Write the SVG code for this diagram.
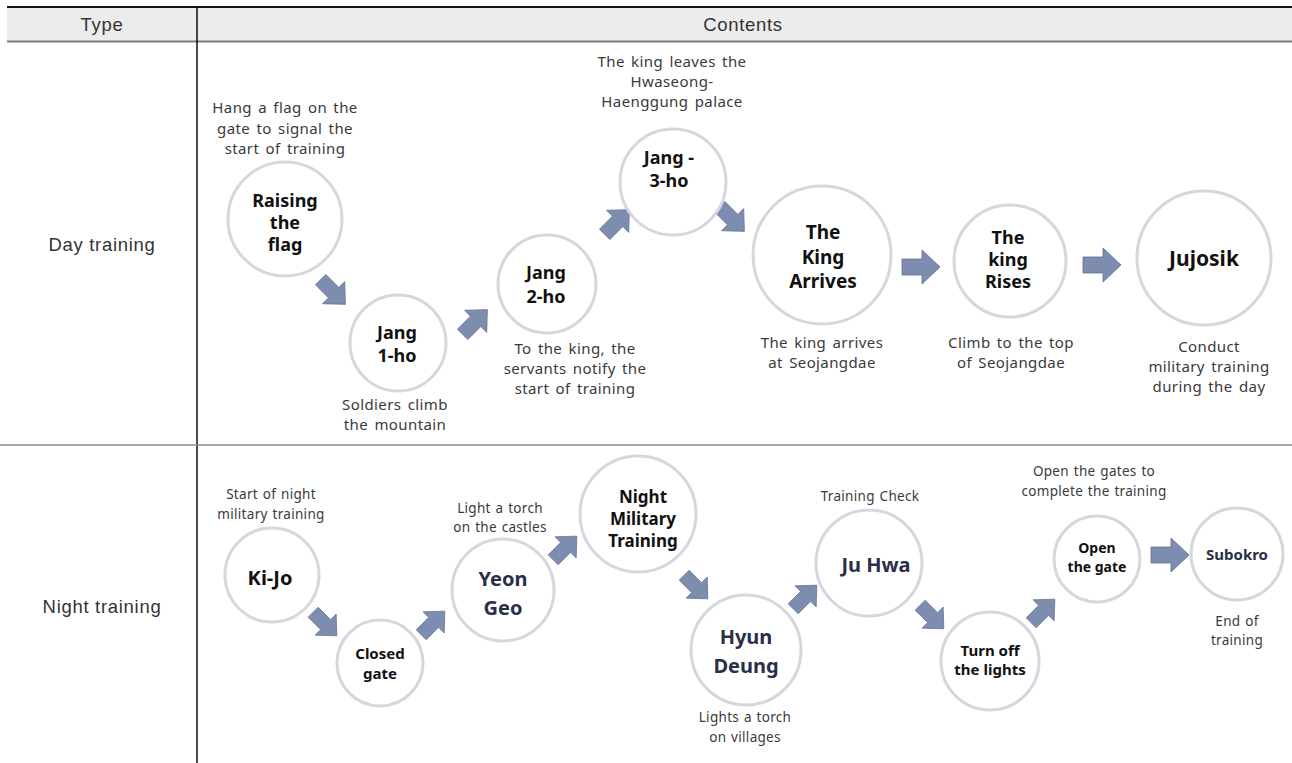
<svg xmlns="http://www.w3.org/2000/svg" width="1292" height="763" viewBox="0 0 1292 763">
<style>
.hd{font-family:"Liberation Sans",Arial,sans-serif;font-size:18.5px;letter-spacing:0.7px;fill:#333;text-anchor:middle;dominant-baseline:central}
.ds{font-family:"Noto Sans","Noto Sans CJK KR",sans-serif;font-size:15px;letter-spacing:0.4px;word-spacing:2px;fill:#3a3a3a;text-anchor:middle;dominant-baseline:central}
.dn{font-family:"Noto Sans","Noto Sans CJK KR",sans-serif;font-size:13.5px;letter-spacing:0.3px;word-spacing:1px;fill:#3a3a3a;text-anchor:middle;dominant-baseline:central}
.lb{font-family:"Noto Sans","Noto Sans CJK KR",sans-serif;font-weight:bold;fill:#111;text-anchor:middle;dominant-baseline:central}
.nv{fill:#2a2f48}
.c{fill:#fff;stroke:#d6d6de;stroke-width:3}
.ar{fill:#7d8db0;stroke:#5f6f95;stroke-width:0.8}
</style>
<defs>
<polygon id="arr" points="-19,-8 1,-8 1,-17 19,0 1,17 1,8 -19,8"/>
</defs>
<rect width="1292" height="763" fill="#fff"/>
<g id="table">
<rect x="7" y="7" width="1285" height="34" fill="#ececec"/>
<line x1="7" y1="7" x2="1292" y2="7" stroke="#111" stroke-width="2"/>
<line x1="7" y1="41.5" x2="1292" y2="41.5" stroke="#7a7a7a" stroke-width="2"/>
<line x1="197" y1="7" x2="197" y2="763" stroke="#111" stroke-width="1.5"/>
<line x1="0" y1="445" x2="1292" y2="445" stroke="#8a8a8a" stroke-width="1.5"/>
<text class="hd" x="102" y="24">Type</text>
<text class="hd" x="743" y="24">Contents</text>
<text class="hd" x="102" y="244">Day training</text>
<text class="hd" x="102" y="606">Night training</text>
</g>
<g id="connectors">
<use href="#arr" class="ar" transform="translate(333,292) rotate(45) scale(0.92)"/>
<use href="#arr" class="ar" transform="translate(475,322) rotate(-45) scale(0.92)"/>
<use href="#arr" class="ar" transform="translate(617,222) rotate(-45) scale(0.92)"/>
<use href="#arr" class="ar" transform="translate(732,219) rotate(45) scale(0.92)"/>
<use href="#arr" class="ar" transform="translate(921,267)"/>
<use href="#arr" class="ar" transform="translate(1102,265)"/>
<use href="#arr" class="ar" transform="translate(325,624) rotate(45) scale(0.88)"/>
<use href="#arr" class="ar" transform="translate(433,623) rotate(-45) scale(0.88)"/>
<use href="#arr" class="ar" transform="translate(565,548) rotate(-45) scale(0.88)"/>
<use href="#arr" class="ar" transform="translate(696,587) rotate(45) scale(0.88)"/>
<use href="#arr" class="ar" transform="translate(805,597) rotate(-45) scale(0.88)"/>
<use href="#arr" class="ar" transform="translate(932,617) rotate(45) scale(0.88)"/>
<use href="#arr" class="ar" transform="translate(1043,611) rotate(-45) scale(0.88)"/>
<use href="#arr" class="ar" transform="translate(1170,555)"/>
</g>
<g id="n-raising">
<circle class="c" cx="285" cy="219" r="57"/>
<text class="lb" font-size="18" x="285" y="200">Raising</text>
<text class="lb" font-size="18" x="285" y="222">the</text>
<text class="lb" font-size="18" x="285" y="244">flag</text>
<text class="ds" x="285" y="107">Hang a flag on the</text>
<text class="ds" x="285" y="128">gate to signal the</text>
<text class="ds" x="285" y="148">start of training</text>
</g>
<g id="n-jang1">
<circle class="c" cx="398" cy="343" r="48"/>
<text class="lb" font-size="18" x="397" y="332">Jang</text>
<text class="lb" font-size="18" x="397" y="355">1-ho</text>
<text class="ds" x="395" y="404">Soldiers  climb</text>
<text class="ds" x="395" y="424">the mountain</text>
</g>
<g id="n-jang2">
<circle class="c" cx="547" cy="284" r="49"/>
<text class="lb" font-size="18" x="546" y="272">Jang</text>
<text class="lb" font-size="18" x="546" y="296">2-ho</text>
<text class="ds" x="575" y="348">To the king, the</text>
<text class="ds" x="575" y="368">servants notify the</text>
<text class="ds" x="575" y="388">start of training</text>
</g>
<g id="n-jang3">
<circle class="c" cx="673" cy="182" r="53"/>
<text class="lb" font-size="18" x="669" y="157">Jang -</text>
<text class="lb" font-size="18" x="669" y="180">3-ho</text>
<text class="ds" x="672" y="61">The king leaves the</text>
<text class="ds" x="672" y="81">Hwaseong-</text>
<text class="ds" x="672" y="101">Haenggung palace</text>
</g>
<g id="n-kingarrives">
<circle class="c" cx="822" cy="255" r="69"/>
<text class="lb" font-size="19" x="823" y="232">The</text>
<text class="lb" font-size="19" x="823" y="257">King</text>
<text class="lb" font-size="19" x="823" y="281">Arrives</text>
<text class="ds" x="822" y="342">The king arrives</text>
<text class="ds" x="822" y="362">at Seojangdae</text>
</g>
<g id="n-kingrises">
<circle class="c" cx="1010" cy="261" r="56"/>
<text class="lb" font-size="18" x="1008" y="237">The</text>
<text class="lb" font-size="18" x="1008" y="259">king</text>
<text class="lb" font-size="18" x="1008" y="281">Rises</text>
<text class="ds" x="1011" y="342">Climb to the top</text>
<text class="ds" x="1011" y="362">of Seojangdae</text>
</g>
<g id="n-jujosik">
<circle class="c" cx="1204" cy="258" r="67"/>
<text class="lb" font-size="21" x="1204" y="258">Jujosik</text>
<text class="ds" x="1209" y="346">Conduct</text>
<text class="ds" x="1209" y="366">military training</text>
<text class="ds" x="1209" y="386">during the day</text>
</g>
<g id="n-kijo">
<circle class="c" cx="272" cy="575" r="47"/>
<text class="lb" font-size="20" x="270" y="577">Ki-Jo</text>
<text class="dn" x="271" y="494">Start of night</text>
<text class="dn" x="271" y="514">military training</text>
</g>
<g id="n-closed">
<circle class="c" cx="380" cy="663" r="43"/>
<text class="lb" font-size="15" x="380" y="653">Closed</text>
<text class="lb" font-size="15" x="380" y="673">gate</text>
</g>
<g id="n-yeongeo">
<circle class="c" cx="503" cy="590" r="51"/>
<text class="lb nv" font-size="20" x="503" y="578">Yeon</text>
<text class="lb nv" font-size="20" x="503" y="607">Geo</text>
<text class="dn" x="500" y="508">Light a torch</text>
<text class="dn" x="500" y="527">on the castles</text>
</g>
<g id="n-nightmil">
<circle class="c" cx="638" cy="514" r="58"/>
<text class="lb" font-size="17" x="643" y="496">Night</text>
<text class="lb" font-size="17" x="643" y="518">Military</text>
<text class="lb" font-size="17" x="643" y="540">Training</text>
</g>
<g id="n-hyundeung">
<circle class="c" cx="746" cy="650" r="55"/>
<text class="lb nv" font-size="20" x="746" y="636">Hyun</text>
<text class="lb nv" font-size="20" x="746" y="665">Deung</text>
<text class="dn" x="745" y="717">Lights a torch</text>
<text class="dn" x="745" y="737">on villages</text>
</g>
<g id="n-juhwa">
<circle class="c" cx="869" cy="563" r="53"/>
<text class="lb nv" font-size="20" x="876" y="564">Ju Hwa</text>
<text class="dn" x="870" y="496">Training Check</text>
</g>
<g id="n-turnoff">
<circle class="c" cx="990" cy="661" r="49"/>
<text class="lb" font-size="15" x="990" y="650">Turn off</text>
<text class="lb" font-size="15" x="990" y="669">the lights</text>
</g>
<g id="n-opengate">
<circle class="c" cx="1097" cy="559" r="43"/>
<text class="lb" font-size="14" x="1097" y="547">Open</text>
<text class="lb" font-size="14" x="1097" y="566">the gate</text>
<text class="dn" x="1094" y="471">Open the gates to</text>
<text class="dn" x="1094" y="491">complete the training</text>
</g>
<g id="n-subokro">
<circle class="c" cx="1237" cy="554" r="46"/>
<text class="lb nv" font-size="15" x="1237" y="554">Subokro</text>
<text class="dn" x="1237" y="621">End of</text>
<text class="dn" x="1237" y="640">training</text>
</g>
</svg>
